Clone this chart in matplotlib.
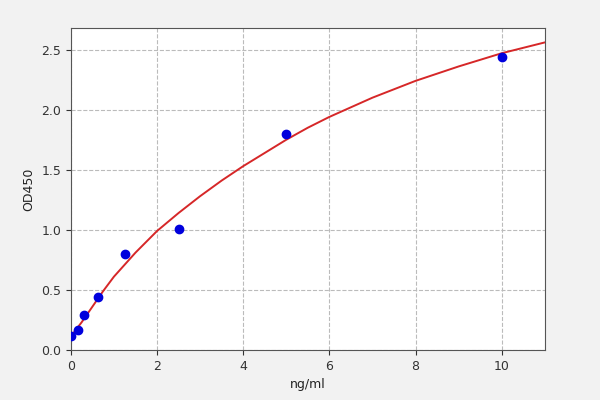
import numpy as np
import matplotlib
matplotlib.use("Agg")
import matplotlib.pyplot as plt

# standard points
conc = [0, 0.156, 0.312, 0.625, 1.25, 2.5, 5, 10]
od = [0.12, 0.17, 0.29, 0.44, 0.80, 1.01, 1.80, 2.44]

# fitted curve
fit_x = [0, 0.1, 0.25, 0.5, 0.75, 1.0, 1.25, 1.5, 1.75, 2.0, 2.5, 3.0, 3.5, 4.0,
         4.5, 5.0, 5.5, 6.0, 7.0, 8.0, 9.0, 10.0, 11.0]
fit_y = [0.11, 0.16, 0.23, 0.36, 0.49, 0.61, 0.71, 0.81, 0.90, 0.99, 1.14, 1.28, 1.41, 1.53,
         1.64, 1.75, 1.85, 1.94, 2.10, 2.24, 2.36, 2.47, 2.56]

fig = plt.figure(figsize=(6, 4), dpi=100, facecolor="#f2f2f2")
ax = fig.add_axes([0.118, 0.125, 0.79, 0.805])

ax.plot(fit_x, fit_y, color="#d62728", lw=1.4, zorder=3)
ax.plot(conc, od, "o", color="#0000dd", ms=6, zorder=4)

ax.set_xlim(0, 11)
ax.set_ylim(0, 2.68)
ax.set_xticks([0, 2, 4, 6, 8, 10])
ax.set_yticks([0.0, 0.5, 1.0, 1.5, 2.0, 2.5])
ax.grid(True, ls="--", color="#bbbbbb", lw=0.8)
ax.set_xlabel("ng/ml", fontsize=9, color="#222222")
ax.set_ylabel("OD450", fontsize=9, color="#222222")
ax.tick_params(labelsize=9, colors="#333333")
for s in ax.spines.values():
    s.set_color("#555555")

fig.savefig("out.png", dpi=100, facecolor=fig.get_facecolor())
